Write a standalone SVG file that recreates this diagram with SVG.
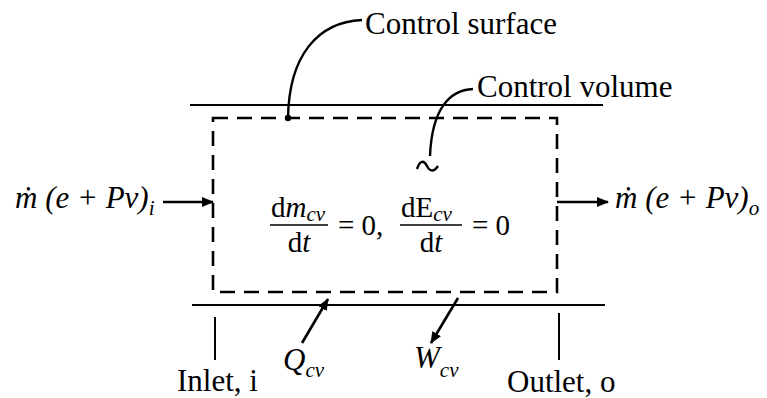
<svg xmlns="http://www.w3.org/2000/svg" width="767" height="398" viewBox="0 0 767 398" font-family="'Liberation Serif', 'DejaVu Serif', serif">
<style>
text{font-family:'Liberation Serif','DejaVu Serif',serif;fill:#000}
.t{font-size:31px}
.i{font-style:italic}
.s{font-size:21px;font-style:italic}
.eq{font-size:29px}
.wall{stroke:#000;stroke-width:2;fill:none}
.cv{stroke:#000;stroke-width:2.6;fill:none;stroke-dasharray:15 9}
.lead{stroke:#000;stroke-width:2.4;fill:none}
.arr{stroke:#000;stroke-width:2.6;fill:none;marker-end:url(#ah)}
.fr{stroke:#000;stroke-width:1.5}
</style>
<defs>
<marker id="ah" viewBox="0 0 12 10" refX="11" refY="5" markerWidth="12" markerHeight="10" markerUnits="userSpaceOnUse" orient="auto">
<path d="M0,0 L12,5 L0,10 Z" fill="#000"/>
</marker>
</defs>
<g id="pipe">
<line class="wall" x1="190" y1="105" x2="603" y2="105"/>
<line class="wall" x1="192" y1="305" x2="605" y2="305"/>
<line class="wall" x1="215" y1="317" x2="215" y2="360"/>
<line class="wall" x1="559" y1="313" x2="559" y2="360"/>
</g>
<g id="control-volume">
<rect class="cv" x="213" y="118" width="344" height="174"/>
</g>
<g id="connectors">
<path class="lead" d="M288,118 C289,55 318,22 362,20"/>
<circle cx="288" cy="118" r="3.2" fill="#000"/>
<path class="lead" d="M473,89 C450,90 432,108 430,156"/>
<path class="lead" d="M417,169 C420,160 424,160 427,166 C430,172 434,172 438,166"/>
<line class="arr" x1="163" y1="202" x2="213" y2="202"/>
<line class="arr" x1="557" y1="202" x2="608" y2="202"/>
<line class="arr" x1="302" y1="343" x2="328" y2="299"/>
<line class="arr" x1="458" y1="298" x2="431" y2="343"/>
</g>
<g id="label-control-surface"><text class="t" x="365" y="34" font-family="Liberation Serif">Control surface</text></g>
<g id="label-control-volume"><text class="t" x="477" y="97" font-family="Liberation Serif">Control volume</text></g>
<g id="label-inlet-flow"><text class="t i" x="15" y="208" font-family="Liberation Serif">ṁ (e + Pv)<tspan class="s" dy="7">i</tspan></text></g>
<g id="label-outlet-flow"><text class="t i" x="615" y="208" font-family="Liberation Serif">ṁ (e + Pv)<tspan class="s" dy="7">o</tspan></text></g>
<g id="equation" font-family="Liberation Serif">
<text class="eq" x="271" y="217">d<tspan class="i">m</tspan><tspan class="s" dy="4">cv</tspan></text>
<line class="fr" x1="270" y1="225" x2="328" y2="225"/>
<text class="eq" x="299" y="252" text-anchor="middle">d<tspan class="i">t</tspan></text>
<text class="eq" x="338" y="235">= 0,</text>
<text class="eq" x="401" y="217">dE<tspan class="s" dy="4">cv</tspan></text>
<line class="fr" x1="400" y1="225" x2="462" y2="225"/>
<text class="eq" x="431" y="252" text-anchor="middle">d<tspan class="i">t</tspan></text>
<text class="eq" x="472" y="235">= 0</text>
</g>
<g id="label-heat"><text class="t i" x="283" y="370" font-family="Liberation Serif">Q<tspan class="s" dy="7">cv</tspan></text></g>
<g id="label-work"><text class="t i" x="414" y="368" font-family="Liberation Serif">W<tspan class="s" dy="9">cv</tspan></text></g>
<g id="label-inlet"><text class="t" x="177" y="391" font-family="Liberation Serif">Inlet, i</text></g>
<g id="label-outlet"><text class="t" x="507" y="392" font-family="Liberation Serif">Outlet, o</text></g>
</svg>
